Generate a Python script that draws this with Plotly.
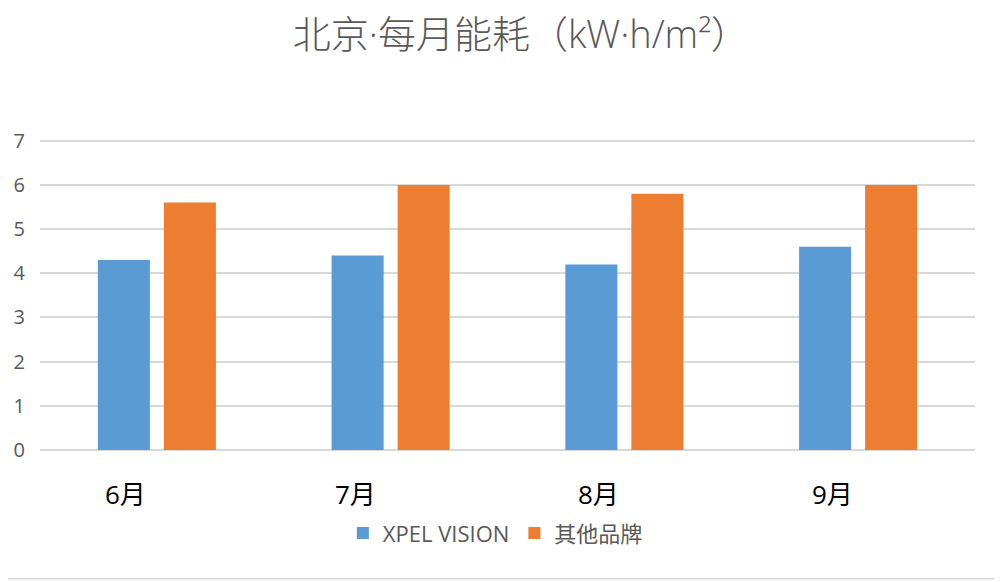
import plotly.graph_objects as go

months = ["6月", "7月", "8月", "9月"]
xpel = [4.3, 4.4, 4.2, 4.6]
others = [5.6, 6.0, 5.8, 6.0]
series_names = ["XPEL VISION", "其他品牌"]
y_ticks = [0, 1, 2, 3, 4, 5, 6, 7]

FONT = "Open Sans, Noto Sans CJK SC, sans-serif"
label_shifts = [-31, -35, -26, -26]  # label offsets (px) from category centres

fig = go.Figure()
fig.add_trace(go.Bar(x=months, y=xpel, name=series_names[0],
                     marker=dict(color="#5b9bd5", line=dict(width=0))))
fig.add_trace(go.Bar(x=months, y=others, name=series_names[1],
                     marker=dict(color="#ed7d31", line=dict(width=0))))

for m, dx in zip(months, label_shifts):
    fig.add_annotation(x=m, xref="x", y=-0.14, yref="paper", text=m,
                       showarrow=False, xshift=dx, yanchor="middle",
                       font=dict(family=FONT, size=26, color="#000000"))

fig.add_shape(type="line", xref="paper", yref="paper", x0=-0.05, x1=1.05,
              y0=-0.414, y1=-0.414, line=dict(color="#d9d9d9", width=1.5))

fig.update_layout(
    width=994, height=574,
    margin=dict(l=32, r=27, t=131, b=132, autoexpand=False),
    paper_bgcolor="white", plot_bgcolor="white",
    barmode="group", bargap=0.435, bargroupgap=0.212,
    title=dict(text="北京·每月能耗（kW·h/m²）", x=0.516, xanchor="center",
               y=0.953, yanchor="middle", yref="container",
               font=dict(family=FONT, size=38, color="#595959", weight=300)),
    font=dict(family=FONT, color="#595959"),
    showlegend=True,
    legend=dict(orientation="h", x=0.487, xanchor="center", y=-0.2, yanchor="top",
                font=dict(family=FONT, size=22, color="#595959"),
                itemwidth=30),
    xaxis=dict(showticklabels=False, showline=False, ticks="", showgrid=False,
               automargin=False),
    yaxis=dict(range=[0, 7.04], tickvals=y_ticks, showgrid=True, gridcolor="#d9d9d9",
               gridwidth=1.5, zeroline=True, zerolinecolor="#d9d9d9", zerolinewidth=1.5,
               ticks="", ticklabelstandoff=14, automargin=False,
               tickfont=dict(family=FONT, size=20, color="#595959")),
)

fig.write_html("out.html")
